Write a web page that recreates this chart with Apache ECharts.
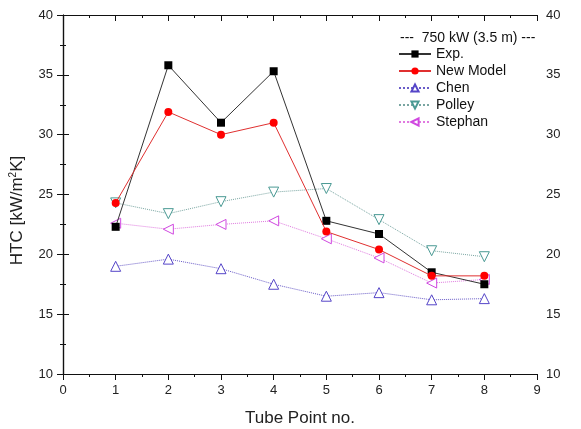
<!DOCTYPE html>
<html><head><meta charset="utf-8">
<script src="https://cdn.jsdelivr.net/npm/echarts@6/dist/echarts.min.js"></script>
<style>html,body{margin:0;padding:0;background:#fff}#c{width:581px;height:429px}</style>
</head><body><div id="c"></div>
<script>
const tubePoints = [1, 2, 3, 4, 5, 6, 7, 8];
const expValues = [22.3, 35.8, 31.0, 35.3, 22.8, 21.7, 18.5, 17.5];
const newModelValues = [24.3, 31.9, 30.0, 31.0, 21.9, 20.4, 18.2, 18.2];
const chenValues = [19.0, 19.6, 18.8, 17.5, 16.5, 16.8, 16.2, 16.3];
const polleyValues = [24.3, 23.4, 24.4, 25.2, 25.5, 22.9, 20.3, 19.8];
const stephanValues = [22.6, 22.1, 22.5, 22.8, 21.3, 19.7, 17.6, 17.9];
const legendTitle = '---  750 kW (3.5 m) ---';
const xTickValues = [0,1,2,3,4,5,6,7,8,9];
const yTickValues = [10,15,20,25,30,35,40];

const pairs = v => tubePoints.map((x, i) => [x, v[i]]);
const font = 'Liberation Sans, Arial, sans-serif';
const axisLine = {show: true, lineStyle: {color: '#111', width: 1.2}};
const labelStyle = {color: '#222', fontSize: 13, fontFamily: font};

const chart = echarts.init(document.getElementById('c'), null, {renderer: 'canvas'});
chart.setOption({
  animation: false,
  backgroundColor: '#fff',
  grid: {left: 63, right: 44, top: 15, bottom: 55, containLabel: false, outerBoundsMode: 'none'},
  title: {text: legendTitle, left: 400, top: 31, padding: 0, textStyle: {fontSize: 14, fontWeight: 'normal', color: '#111', fontFamily: font}},
  legend: {
    orient: 'vertical', left: 398, top: 47, padding: 0, itemWidth: 32, itemHeight: 9, itemGap: 3,
    textStyle: {fontSize: 14, lineHeight: 14, color: '#111', fontFamily: font},
    data: ['Exp.', 'New Model', 'Chen', 'Polley', 'Stephan']
  },
  xAxis: [
    {type: 'value', position: 'bottom', min: 0, max: 9, interval: 1,
     name: 'Tube Point no.', nameLocation: 'middle', nameGap: 36,
     nameTextStyle: {fontSize: 17, color: '#222', fontFamily: font},
     axisLine, axisTick: {show: true, length: 6, inside: false, lineStyle: {color: '#111'}},
     minorTick: {show: true, splitNumber: 2, length: 3, lineStyle: {color: '#111'}},
     axisLabel: Object.assign({margin: 10, formatter: v => xTickValues.includes(v) ? String(v) : ''}, labelStyle),
     splitLine: {show: false}},
    {type: 'value', position: 'top', min: 0, max: 9, interval: 1,
     axisLine, axisTick: {show: true, length: 6, inside: true, lineStyle: {color: '#111'}},
     minorTick: {show: true, splitNumber: 2, length: 3, lineStyle: {color: '#111'}},
     axisLabel: {show: false}, splitLine: {show: false}}
  ],
  yAxis: [
    {type: 'value', position: 'left', min: 10, max: 40, interval: 5,
     name: 'HTC [kW/m{s|2}K]', nameLocation: 'middle', nameGap: 36, nameRotate: 90,
     nameTextStyle: {fontSize: 17, color: '#222', fontFamily: font, padding: [0, 32, 0, 0],
       rich: {s: {fontSize: 10, verticalAlign: 'bottom', padding: [0,0,9,0], color: '#222', fontFamily: font}}},
     axisLine, axisTick: {show: true, length: 6, inside: false, lineStyle: {color: '#111'}},
     minorTick: {show: true, splitNumber: 2, length: 3, lineStyle: {color: '#111'}},
     axisLabel: Object.assign({margin: 10, formatter: v => yTickValues.includes(v) ? String(v) : ''}, labelStyle),
     splitLine: {show: false}},
    {type: 'value', position: 'right', min: 10, max: 40, interval: 5,
     axisLine, axisTick: {show: true, length: 6, inside: false, lineStyle: {color: '#111'}},
     minorTick: {show: true, splitNumber: 2, length: 3, lineStyle: {color: '#111'}},
     axisLabel: Object.assign({margin: 9}, labelStyle),
     splitLine: {show: false}}
  ],
  series: [
    {name: 'Chen', type: 'line', data: pairs(chenValues), symbol: 'triangle', symbolSize: 10,
     itemStyle: {color: '#fff', borderColor: '#5545c8', borderWidth: 1},
     lineStyle: {color: '#6a5cc8', width: 1, type: 'dotted'}, z: 2},
    {name: 'Polley', type: 'line', data: pairs(polleyValues), symbol: 'triangle', symbolRotate: 180, symbolSize: 10,
     itemStyle: {color: '#fff', borderColor: '#4a9a94', borderWidth: 1},
     lineStyle: {color: '#7aa6a2', width: 1, type: 'dotted'}, z: 2},
    {name: 'Stephan', type: 'line', data: pairs(stephanValues), symbol: 'triangle', symbolRotate: 90, symbolSize: 10,
     itemStyle: {color: '#fff', borderColor: '#d048e0', borderWidth: 1},
     lineStyle: {color: '#e07ae0', width: 1, type: 'dotted'}, z: 2},
    {name: 'Exp.', type: 'line', data: pairs(expValues), symbol: 'rect', symbolSize: 8,
     itemStyle: {color: '#000'}, lineStyle: {color: '#333', width: 1}, z: 3},
    {name: 'New Model', type: 'line', data: pairs(newModelValues), symbol: 'circle', symbolSize: 8,
     itemStyle: {color: '#ff0000'}, lineStyle: {color: '#e03030', width: 1}, z: 4}
  ]
});
</script></body></html>
